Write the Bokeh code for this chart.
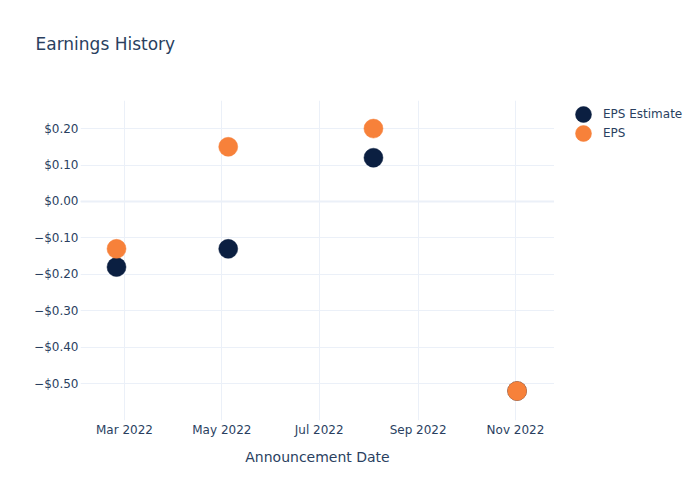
from datetime import datetime, timedelta
from bokeh.plotting import figure
from bokeh.layouts import row
from bokeh.models import (ColumnDataSource, Range1d, FixedTicker, CustomJSTickFormatter,
                          DatetimeTickFormatter, Legend, LegendItem, Grid, Title)
from bokeh.embed import file_html
from bokeh.resources import INLINE

# ---- data ----
dates = [datetime(2022, 2, 24), datetime(2022, 5, 5), datetime(2022, 8, 4), datetime(2022, 11, 2)]
eps_estimate = [-0.18, -0.13, 0.12, -0.52]
eps_actual = [-0.13, 0.15, 0.20, -0.52]
y_ticks = [-0.5, -0.4, -0.3, -0.2, -0.1, 0.0, 0.1, 0.2]
x_tick_dates = [datetime(2022, 3, 1), datetime(2022, 5, 1), datetime(2022, 7, 1),
                datetime(2022, 9, 1), datetime(2022, 11, 1)]
series_names = ["EPS Estimate", "EPS"]

def ms(d):
    return (d - datetime(1970, 1, 1)).total_seconds() * 1000.0

FONT = "DejaVu Sans"
TXT = "#2a3f5f"
GRID = "#EBF0F8"
NAVY = "#0b1f41"
ORANGE = "#f7813a"

area_start = datetime(2022, 3, 1) - timedelta(days=27.57)
area_end = datetime(2022, 11, 1) + timedelta(days=24.44)

p = figure(width=554, height=500, x_axis_type="datetime", output_backend="svg",
           toolbar_location=None, title=None,
           x_range=Range1d(area_start, area_end),
           y_range=Range1d(-0.601, 0.277),
           min_border_left=80, min_border_right=0, min_border_top=100, min_border_bottom=80)
p.outline_line_color = None
p.background_fill_color = "white"
p.border_fill_color = "white"

# spacer (closest to frame) then the real title above it
p.add_layout(Title(text=" ", text_font_size="1px", standoff=44), "above")
p.add_layout(Title(text="Earnings History", text_font=FONT, text_font_size="17px",
                   text_font_style="normal", text_color=TXT, align="left", offset=-45,
                   vertical_align="bottom", standoff=0), "above")

src_e = ColumnDataSource(dict(x=dates, y=eps_estimate))
src_a = ColumnDataSource(dict(x=dates, y=eps_actual))

p.xgrid.grid_line_color = GRID
p.ygrid.grid_line_color = GRID
p.add_layout(Grid(dimension=1, ticker=FixedTicker(ticks=[0.0]),
                  grid_line_color=GRID, grid_line_width=2))

r1 = p.scatter("x", "y", source=src_e, size=19, fill_color=NAVY, line_color=NAVY, line_width=0.5)
r2 = p.scatter("x", "y", source=src_a, size=19, fill_color=ORANGE, line_color=ORANGE, line_width=0.5)

for ax in (p.xaxis[0], p.yaxis[0]):
    ax.axis_line_color = None
    ax.major_tick_line_color = None
    ax.minor_tick_line_color = None
    ax.major_tick_out = 0
    ax.major_tick_in = 0
    ax.minor_tick_out = 0
    ax.minor_tick_in = 0
    ax.major_label_text_font = FONT
    ax.major_label_text_font_size = "12px"
    ax.major_label_text_color = TXT
    ax.axis_label_text_font = FONT
    ax.axis_label_text_font_style = "normal"
    ax.axis_label_text_color = TXT

p.xaxis.ticker = FixedTicker(ticks=[ms(d) for d in x_tick_dates])
p.xaxis.formatter = DatetimeTickFormatter(months="%b %Y", days="%b %Y", years="%b %Y")
p.xaxis.major_label_standoff = 2
p.xaxis.axis_label = "Announcement Date"
p.xaxis.axis_label_text_font_size = "14px"
p.xaxis.axis_label_standoff = 9

p.yaxis.ticker = FixedTicker(ticks=y_ticks)
p.yaxis.formatter = CustomJSTickFormatter(code="""
    const v = Math.round(tick * 100) / 100;
    return (v < 0 ? '\\u2212' : '') + '$' + Math.abs(v).toFixed(2);
""")
p.yaxis.major_label_standoff = 2

# ---- legend panel (separate canvas to the right; its frame aligns with the main frame) ----
# The series are re-plotted here on a range that keeps them out of view; only their legend
# glyphs show.
lg = figure(width=146, height=500, output_backend="svg", toolbar_location=None,
            x_axis_location=None, y_axis_location=None, title=None,
            x_range=Range1d(0, 1), y_range=Range1d(0, 1),
            min_border_left=0, min_border_right=0, min_border_top=0, min_border_bottom=0)
lg.outline_line_color = None
lg.grid.visible = False
lg.background_fill_color = "white"
lg.border_fill_color = "white"

colors = [NAVY, ORANGE]
sources = [src_e, src_a]
legend_bottoms = [286, 267]
for name, col, src, yb in zip(series_names, colors, sources, legend_bottoms):
    rr = lg.scatter("x", "y", source=src, size=19,
                    fill_color=col, line_color=col, line_width=0.5)
    leg = Legend(items=[LegendItem(label=name, renderers=[rr])],
                 location=(9, yb), margin=0, padding=0, spacing=0,
                 glyph_width=40, glyph_height=40, label_height=19, label_standoff=0,
                 label_text_font=FONT, label_text_font_size="12px", label_text_color=TXT,
                 border_line_color=None, background_fill_alpha=0)
    lg.add_layout(leg, "center")

layout = row(p, lg, spacing=0)
open("out.html", "w").write(file_html(layout, INLINE))
